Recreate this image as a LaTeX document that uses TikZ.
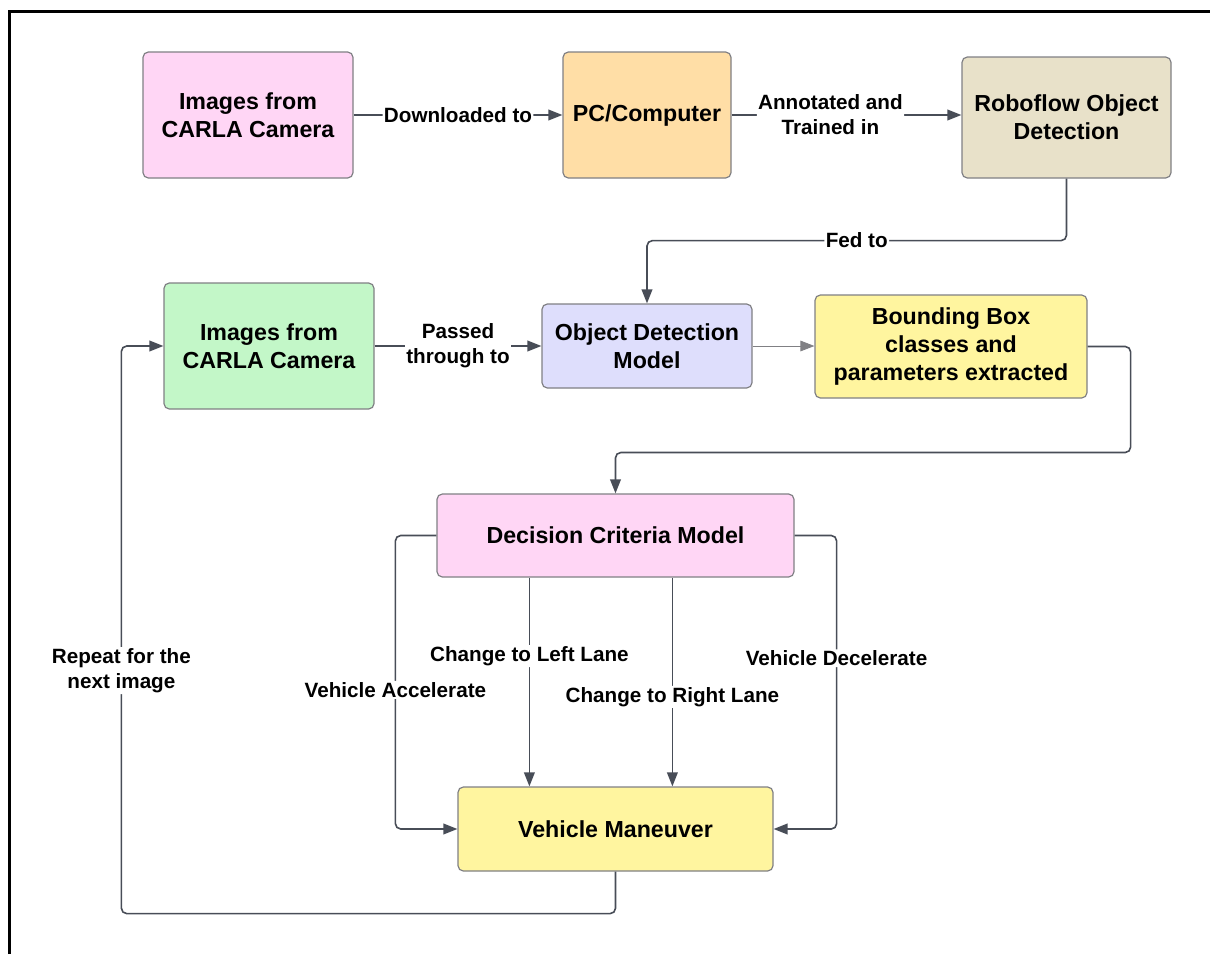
\documentclass[tikz,border=0pt]{standalone}
\usepackage{fontspec}
\setmainfont{Liberation Sans}
\usetikzlibrary{arrows.meta}

\definecolor{pinkbox}{RGB}{255,214,245}
\definecolor{orangebox}{RGB}{255,222,166}
\definecolor{beigebox}{RGB}{232,225,201}
\definecolor{greenbox}{RGB}{195,247,200}
\definecolor{lavbox}{RGB}{222,222,252}
\definecolor{yellowbox}{RGB}{255,245,159}
\definecolor{boxline}{RGB}{128,128,132}
\definecolor{connline}{RGB}{72,77,87}

\tikzset{
  box/.style={draw=boxline, line width=0.9pt, rounded corners=4pt, align=center, inner sep=0pt,
    font=\bfseries\fontsize{17.4}{21}\selectfont},
  conn/.style={draw=connline, line width=1.2pt, rounded corners=4pt, -{Triangle[length=10.5pt,width=8pt]}},
  lbl/.style={fill=white, inner sep=1pt, align=center, font=\bfseries\fontsize{15.5}{18.75}\selectfont},
}

\begin{document}
\begin{tikzpicture}[x=0.75pt,y=0.75pt,yscale=-1,xscale=1]
\useasboundingbox (0,0) rectangle (1210,954);

%Frame
\draw [line width=2.25pt] (9,954) -- (9,11) -- (1210,11) ;

%Shape: Rectangle
\node [box, fill=pinkbox, minimum width=157.5pt, minimum height=94.5pt] (camA) at (248,115) {Images from\\CARLA Camera};
%Shape: Rectangle
\node [box, fill=orangebox, minimum width=126pt, minimum height=94.5pt] (pc) at (647,115) {PC/Computer};
%Shape: Rectangle
\node [box, fill=beigebox, minimum width=156.75pt, minimum height=90.75pt] (robo) at (1066.5,117.5) {Roboflow Object\\Detection};
%Shape: Rectangle
\node [box, fill=greenbox, minimum width=157.5pt, minimum height=94.5pt] (camB) at (269,346) {Images from\\CARLA Camera};
%Shape: Rectangle
\node [box, fill=lavbox, minimum width=157.5pt, minimum height=63pt] (odm) at (647,346) {Object Detection\\Model};
%Shape: Rectangle
\node [box, fill=yellowbox, minimum width=204pt, minimum height=77.25pt] (bbox) at (951,346.5) {Bounding Box\\classes and\\parameters extracted};
%Shape: Rectangle
\node [box, fill=pinkbox, minimum width=267.75pt, minimum height=62.25pt] (dcm) at (615.5,535.5) {Decision Criteria Model};
%Shape: Rectangle
\node [box, fill=yellowbox, minimum width=236.25pt, minimum height=63pt] (vm) at (615.5,829) {Vehicle Maneuver};

%Connectors: top row
\draw [conn] (camA.east) -- node [lbl, midway] {Downloaded to} (pc.west) ;
\draw [conn] (pc.east) -- node [lbl, pos=0.43] {Annotated and\\Trained in} (robo.west |- pc.east) ;
\draw [conn] (robo.south) -- ++(0,62) -| node [lbl, pos=0.25] {Fed to} (odm.north) ;

%Connectors: middle row
\draw [conn] (camB.east) -- node [lbl, midway] {Passed\\through to} (odm.west) ;
\draw [conn, line width=0.6pt, draw=boxline] (odm.east) -- (bbox.west |- odm.east) ;
\draw [conn] (bbox.east) -- ++(43,0) -- ++(0,106) -| (dcm.north) ;

%Connectors: decisions
\draw [conn] (dcm.west) -- ++(-41,0) |- node [lbl, pos=0.263] {Vehicle Accelerate} (vm.west) ;
\draw [conn] ([xshift=69.75pt]dcm.south west) coordinate (lft) -- node [lbl, pos=0.376] {Change to Left Lane} (lft |- vm.north) ;
\draw [conn] ([xshift=177pt]dcm.south west) coordinate (rgt) -- node [lbl, pos=0.571] {Change to Right Lane} (rgt |- vm.north) ;
\draw [conn] (dcm.east) -- ++(42,0) |- node [lbl, pos=0.209] {Vehicle Decelerate} (vm.east) ;

%Connector: loop back
\coordinate (back) at ([xshift=-31.5pt]camB.west) ;
\draw [conn] (vm.south) -- ++(0,42) -| node [lbl, pos=0.714] {Repeat for the\\next image} (back) -- (camB.west) ;

\end{tikzpicture}
\end{document}
